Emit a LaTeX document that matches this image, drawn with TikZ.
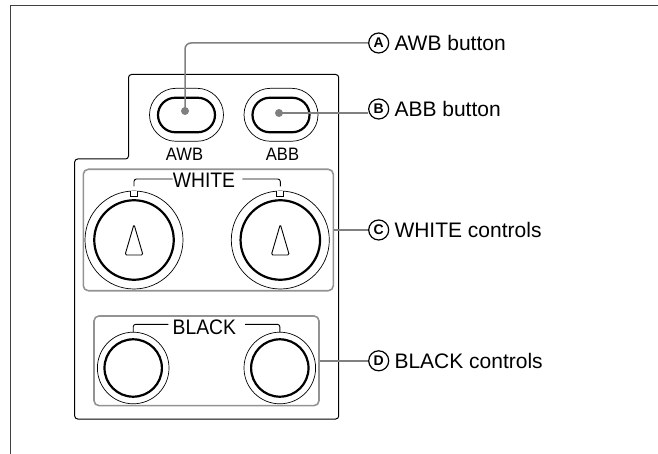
\documentclass[tikz,border=0pt]{standalone}
\usepackage{fontspec}
\setmainfont{Liberation Sans}
\newfontfamily\narrowface[FakeStretch=0.92]{Liberation Sans}
\usetikzlibrary{positioning,shapes.misc}
\tikzset{
	panelline/.style={black, line width=1pt},
	greybox/.style={draw=gray!85, line width=1.6pt, rounded corners=5pt, inner sep=0pt},
	leader/.style={gray, line width=1.5pt},
	leaderdot/.style={circle, fill=gray, inner sep=0pt, minimum size=8pt},
	btnouter/.style={draw, rounded rectangle, line width=.7pt, minimum width=74pt, minimum height=53pt, inner sep=0pt},
	btninner/.style={draw, rounded rectangle, line width=2.2pt, minimum width=57pt, minimum height=34.5pt, inner sep=0pt},
	knobouter/.style={draw, circle, line width=.7pt, inner sep=0pt},
	knobinner/.style={draw, circle, line width=2.2pt, inner sep=0pt},
	badge/.style={draw, circle, line width=1.2pt, inner sep=0pt, minimum size=20pt, font=\fontsize{14}{14}\selectfont\bfseries},
	calllabel/.style={font=\fontsize{21}{23}\selectfont, inner sep=0pt, right=5pt of #1},
	paneltext/.style={font=\narrowface\fontsize{21}{22}\selectfont, inner sep=0pt},
	btntext/.style={font=\narrowface\fontsize{18}{19}\selectfont, inner sep=0pt}
}
\begin{document}
\begin{tikzpicture}[x=1pt, y=-1pt]
	\useasboundingbox (0,0) rectangle (658,454);
	% page frame
	\draw[line width=1.5pt, black!75] (10.5,454) -- (10.5,5.5) -- (658,5.5);
	% panel outline
	\draw[panelline, rounded corners=3pt] (128.5,74.5) -- (338.7,74.5) -- (338.7,419) -- (74.7,419) -- (74.7,159) -- (128.5,159) -- cycle;
	% buttons
	\foreach \name\cx in {awb/186.5,abb/281}{
		\node[btnouter] (\name outer) at (\cx,114.8) {};
		\node[btninner] (\name inner) at (\cx,115) {};
	}
	\node[btntext] (awbtext) at (184.5,154) {AWB};
	\node[btntext] (abbtext) at (282.5,154) {ABB};
	% white group
	\node[greybox, minimum width=250pt, minimum height=121.4pt] (whitebox) at (208.3,230) {};
	\foreach \name\cx in {whitel/134,whiter/280.3}{
		\node[knobouter, minimum size=98pt] (\name outer) at (\cx,240) {};
		\node[knobinner, minimum size=79.5pt] (\name inner) at (\cx,240) {};
		\draw[fill=white, line width=.7pt] (\cx-3.5,190.8) -- (\cx-3.5,196) -- (\cx+3.5,196) -- (\cx+3.5,190.8);
		\draw[line width=.9pt, rounded corners=1.5pt, line join=round] (\cx,224.3) -- (\cx-9,255) -- (\cx+9,255) -- cycle;
	}
	\node[paneltext] (whitetext) at (204,180) {WHITE};
	\draw[line width=.9pt, rounded corners=2.5pt] (134,186.5) -- (134,179) -- (whitetext.west |- 0,179);
	\draw[line width=.9pt, rounded corners=2.5pt] (280.3,186.5) -- (280.3,179) -- ([xshift=7pt]whitetext.east |- 0,179);
	% black group
	\node[greybox, minimum width=225pt, minimum height=89.7pt] (blackbox) at (206.5,360.8) {};
	\foreach \name\cx in {blackl/133.2,blackr/279.8}{
		\node[knobouter, minimum size=71.6pt] (\name outer) at (\cx,368) {};
		\node[knobinner, minimum size=57.4pt] (\name inner) at (\cx,368) {};
	}
	\node[paneltext] (blacktext) at (204.3,327) {BLACK};
	\draw[line width=.9pt, rounded corners=2.5pt] (blacklouter.north) -- (133.2,324.3) -- ([xshift=-4pt]blacktext.west |- 0,324.3);
	\draw[line width=.9pt, rounded corners=2.5pt] (blackrouter.north) -- (279.8,324.3) -- ([xshift=9pt]blacktext.east |- 0,324.3);
	% callouts
	\node[badge] (badgea) at (378.7,43) {A};
	\node[badge] (badgeb) at (378.7,109) {B};
	\node[badge] (badgec) at (378.7,230) {C};
	\node[badge] (badged) at (378.7,360.8) {D};
	\node[calllabel=badgea] (labela) {AWB button};
	\node[calllabel=badgeb] (labelb) {ABB button};
	\node[calllabel=badgec] (labelc) {WHITE controls};
	\node[calllabel=badged] (labeld) {BLACK controls};
	\node[leaderdot] (dota) at (185,111) {};
	\node[leaderdot] (dotb) at (279,113) {};
	\draw[leader, rounded corners=6pt] (dota.center) |- (badgea.west);
	\draw[leader] (dotb.center) -- (dotb.center -| badgeb.west);
	\draw[leader] (whitebox.east) -- (badgec.west);
	\draw[leader] (blackbox.east) -- (badged.west);
\end{tikzpicture}
\end{document}
